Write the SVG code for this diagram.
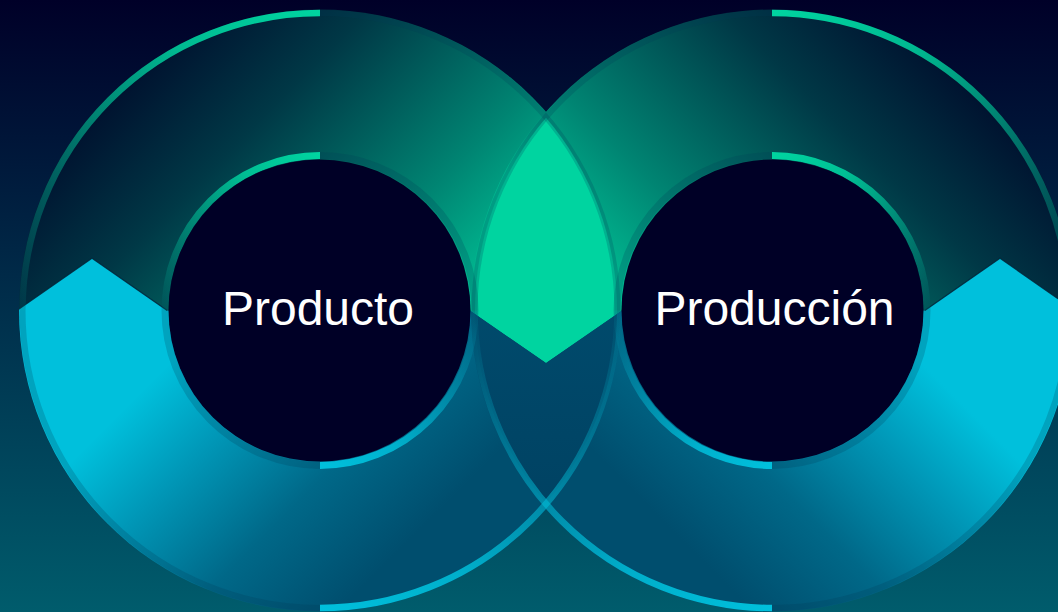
<svg xmlns="http://www.w3.org/2000/svg" width="1058" height="612" viewBox="0 0 1058 612">
<defs>
<style>
.lbl{font-family:"Liberation Sans",Arial,sans-serif;font-size:48px;fill:#ffffff;text-anchor:middle}
.dim{fill:none;stroke:#003a58;stroke-opacity:0.22}
.arc{fill:none;stroke-width:6.5}
.iarc{fill:none;stroke-width:7}
.core{fill:#000026}
.chev{fill:none;stroke:#00263a;stroke-width:1.2;stroke-opacity:0.85}
</style>
<linearGradient id="bg" x1="0" y1="0" x2="0" y2="1">
<stop offset="0" stop-color="#000028"/>
<stop offset="0.45" stop-color="#002a48"/>
<stop offset="1" stop-color="#005c6c"/>
</linearGradient>
<linearGradient id="topL" gradientUnits="userSpaceOnUse" x1="100" y1="100" x2="380" y2="380">
<stop offset="0" stop-color="#00102e"/>
<stop offset="0.32" stop-color="#003846"/>
<stop offset="0.75" stop-color="#008472"/>
<stop offset="1" stop-color="#00b890"/>
</linearGradient>
<linearGradient id="topR" gradientUnits="userSpaceOnUse" x1="992" y1="100" x2="712" y2="380">
<stop offset="0" stop-color="#00102e"/>
<stop offset="0.32" stop-color="#003846"/>
<stop offset="0.75" stop-color="#008472"/>
<stop offset="1" stop-color="#00b890"/>
</linearGradient>
<linearGradient id="botL" gradientUnits="userSpaceOnUse" x1="266.5" y1="266.5" x2="475" y2="475">
<stop offset="0" stop-color="#00c0dc"/>
<stop offset="0.28" stop-color="#0098b8"/>
<stop offset="0.64" stop-color="#006888"/>
<stop offset="1" stop-color="#004e6e"/>
</linearGradient>
<linearGradient id="botR" gradientUnits="userSpaceOnUse" x1="825.5" y1="266.5" x2="617" y2="475">
<stop offset="0" stop-color="#00c0dc"/>
<stop offset="0.28" stop-color="#0098b8"/>
<stop offset="0.64" stop-color="#006888"/>
<stop offset="1" stop-color="#004e6e"/>
</linearGradient>
<linearGradient id="lensBot" x1="0" y1="0" x2="0" y2="1">
<stop offset="0" stop-color="#004c6e"/>
<stop offset="1" stop-color="#003e5e"/>
</linearGradient>
<linearGradient id="gTL" x1="1" y1="0" x2="0" y2="1">
<stop offset="0" stop-color="#00d4a0"/>
<stop offset="0.3" stop-color="#00d4a0" stop-opacity="0.85"/>
<stop offset="1" stop-color="#00d4a0" stop-opacity="0.05"/>
</linearGradient>
<linearGradient id="gTR" x1="0" y1="0" x2="1" y2="1">
<stop offset="0" stop-color="#00d4a0"/>
<stop offset="0.3" stop-color="#00d4a0" stop-opacity="0.85"/>
<stop offset="1" stop-color="#00d4a0" stop-opacity="0.05"/>
</linearGradient>
<linearGradient id="gBR" x1="0" y1="1" x2="1" y2="0">
<stop offset="0" stop-color="#00c0dc"/>
<stop offset="0.3" stop-color="#00c0dc" stop-opacity="0.85"/>
<stop offset="1" stop-color="#00c0dc" stop-opacity="0.05"/>
</linearGradient>
<linearGradient id="gBL" x1="1" y1="1" x2="0" y2="0">
<stop offset="0" stop-color="#00c0dc"/>
<stop offset="0.3" stop-color="#00c0dc" stop-opacity="0.85"/>
<stop offset="1" stop-color="#00c0dc" stop-opacity="0.05"/>
</linearGradient>
<clipPath id="clipL"><circle cx="320" cy="310.5" r="301"/></clipPath>
<clipPath id="clipR"><circle cx="772" cy="310.5" r="301"/></clipPath>
<clipPath id="clipLens"><path d="M546,117.8 A297,297 0 0,1 546,503.2 A297,297 0 0,1 546,117.8 Z"/></clipPath>
<path id="topRegion" d="M0,0 H1058 V298.7 L1000,258.3 L924.8,310.5 L622,310.5 L546,363 L470,310.5 L167.2,310.5 L92,258.3 L0,322.3 Z"/>
<path id="botRegion" d="M0,322.3 L92,258.3 L167.2,310.5 L470,310.5 L546,363 L622,310.5 L924.8,310.5 L1000,258.3 L1058,298.7 V612 H0 Z"/>
</defs>

<rect id="background" x="0" y="0" width="1058" height="612" fill="url(#bg)"/>

<g id="node-producto">
<g clip-path="url(#clipL)">
<use href="#topRegion" fill="url(#topL)"/>
<use href="#botRegion" fill="url(#botL)"/>
<polyline class="chev" points="0,322.3 92,258.3 167.2,310.5"/>
</g>
</g>

<g id="node-produccion">
<g clip-path="url(#clipR)">
<use href="#topRegion" fill="url(#topR)"/>
<use href="#botRegion" fill="url(#botR)"/>
<polyline class="chev" points="924.8,310.5 1000,258.3 1058,298.7"/>
</g>
</g>

<g id="overlap">
<g clip-path="url(#clipLens)">
<use href="#topRegion" fill="#00d4a0"/>
<use href="#botRegion" fill="url(#lensBot)"/>
</g>
</g>

<g id="connectors">
<circle class="dim" cx="320" cy="310.5" r="297.5" stroke-width="6"/>
<circle class="dim" cx="320" cy="310.5" r="155" stroke-width="7"/>
<circle class="dim" cx="772" cy="310.5" r="297.5" stroke-width="6"/>
<circle class="dim" cx="772" cy="310.5" r="155" stroke-width="7"/>
<path class="arc" stroke="url(#gTL)" d="M320,13 A297.5,297.5 0 0,0 22.5,310.5"/>
<path class="iarc" stroke="url(#gTL)" d="M320,155.5 A155,155 0 0,0 165,310.5"/>
<path class="arc" stroke="url(#gBR)" d="M320,608 A297.5,297.5 0 0,0 617.5,310.5"/>
<path class="iarc" stroke="url(#gBR)" d="M320,465.5 A155,155 0 0,0 475,310.5"/>
<path class="arc" stroke="url(#gTR)" d="M772,13 A297.5,297.5 0 0,1 1069.5,310.5"/>
<path class="iarc" stroke="url(#gTR)" d="M772,155.5 A155,155 0 0,1 927,310.5"/>
<path class="arc" stroke="url(#gBL)" d="M772,608 A297.5,297.5 0 0,1 474.5,310.5"/>
<path class="iarc" stroke="url(#gBL)" d="M772,465.5 A155,155 0 0,1 617,310.5"/>
</g>

<g id="label-producto">
<circle class="core" cx="319.5" cy="310.5" r="151"/>
<text class="lbl" x="318" y="325">Producto</text>
</g>
<g id="label-produccion">
<circle class="core" cx="772.5" cy="310.5" r="151"/>
<text class="lbl" x="774.5" y="325">Producción</text>
</g>
</svg>
